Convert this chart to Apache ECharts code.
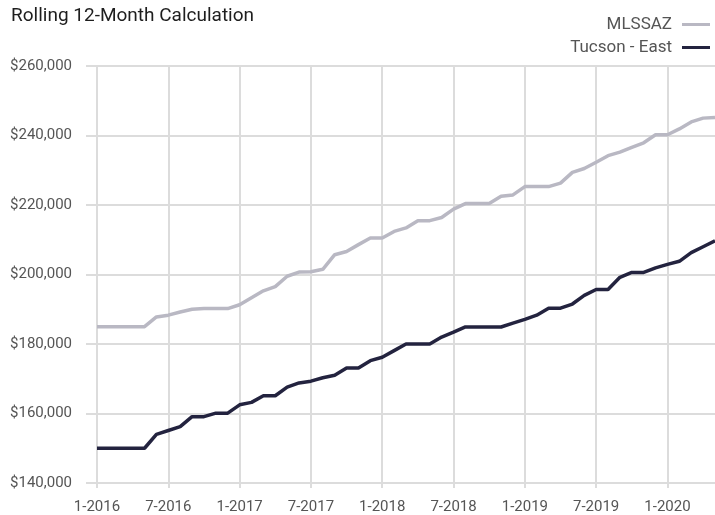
<!DOCTYPE html>
<html>
<head>
<meta charset="utf-8">
<script src="https://cdn.jsdelivr.net/npm/echarts@6/dist/echarts.min.js"></script>
<style>
html,body{margin:0;padding:0;background:#fff;}
#c{width:715px;height:515px;}
</style>
</head>
<body>
<div id="c"></div>
<script>
const titleText = 'Rolling 12-Month Calculation';
const seriesNames = ['MLSSAZ', 'Tucson - East'];
const months = [
 '1-2016','2-2016','3-2016','4-2016','5-2016','6-2016','7-2016','8-2016','9-2016','10-2016','11-2016','12-2016',
 '1-2017','2-2017','3-2017','4-2017','5-2017','6-2017','7-2017','8-2017','9-2017','10-2017','11-2017','12-2017',
 '1-2018','2-2018','3-2018','4-2018','5-2018','6-2018','7-2018','8-2018','9-2018','10-2018','11-2018','12-2018',
 '1-2019','2-2019','3-2019','4-2019','5-2019','6-2019','7-2019','8-2019','9-2019','10-2019','11-2019','12-2019',
 '1-2020','2-2020','3-2020','4-2020','5-2020'
];
const mlssaz = [
 185000,185000,185000,185000,185000,187800,188300,189200,190000,190200,190200,190200,
 191300,193300,195300,196500,199500,200700,200800,201500,205700,206600,208600,210500,
 210500,212400,213400,215500,215500,216400,218800,220400,220400,220400,222500,222900,
 225300,225300,225300,226300,229400,230500,232300,234200,235200,236600,237900,240200,
 240200,241900,243900,245000,245200
];
const tucsonEast = [
 150000,150000,150000,150000,150000,154000,155100,156200,159100,159100,160100,160100,
 162500,163200,165100,165100,167600,168800,169300,170300,171000,173100,173100,175200,
 176200,178100,180000,180000,180000,182000,183400,184900,184900,184900,184900,186000,
 187100,188300,190300,190300,191500,194000,195700,195700,199200,200600,200600,201900,
 202900,203800,206300,208000,209700
];
const yMin = 140000, yMax = 260000, yStep = 20000;

const FONT = 'Roboto, "Liberation Sans", sans-serif';
const gridColor = '#dcdcdc';
const chart = echarts.init(document.getElementById('c'));
function money(v){ return '$' + String(v).replace(/\B(?=(\d{3})+(?!\d))/g, ','); }
chart.setOption({
  animation: false,
  backgroundColor: '#fff',
  title: {
    text: titleText, left: 6, top: 2,
    textStyle: { fontFamily: FONT, fontSize: 19, fontWeight: 'normal', color: '#1e1e1e' }
  },
  legend: {
    data: seriesNames, orient: 'vertical', right: 0, top: 11, align: 'right',
    itemWidth: 28, itemHeight: 3, itemGap: 6, icon: 'rect',
    textStyle: { fontFamily: FONT, fontSize: 17, color: '#555', padding: [0, 5, 0, 0] }
  },
  grid: { left: 97, right: 0, top: 66, bottom: 32, containLabel: false },
  xAxis: {
    type: 'category', data: months, boundaryGap: false,
    axisLine: { show: true, lineStyle: { color: gridColor, width: 2 } },
    axisTick: { show: true, interval: 5, length: 5, lineStyle: { color: gridColor, width: 2 } },
    axisLabel: { interval: 5, margin: 17, fontFamily: FONT, fontSize: 15, color: '#555' },
    splitLine: { show: true, interval: 5, lineStyle: { color: gridColor, width: 2 } }
  },
  yAxis: {
    type: 'value', min: yMin, max: yMax, interval: yStep,
    axisLine: { show: false },
    axisTick: { show: true, length: 11, lineStyle: { color: gridColor, width: 2 } },
    axisLabel: { margin: 25, fontFamily: FONT, fontSize: 15, color: '#555', formatter: money },
    splitLine: { show: true, lineStyle: { color: gridColor, width: 2 } }
  },
  series: [
    { name: seriesNames[0], type: 'line', data: mlssaz, symbol: 'none', clip: false,
      lineStyle: { color: '#b9b8c3', width: 3.5 }, itemStyle: { color: '#b9b8c3' } },
    { name: seriesNames[1], type: 'line', data: tucsonEast, symbol: 'none', clip: false,
      lineStyle: { color: '#23233f', width: 3.5 }, itemStyle: { color: '#23233f' } }
  ]
});
</script>
</body>
</html>
